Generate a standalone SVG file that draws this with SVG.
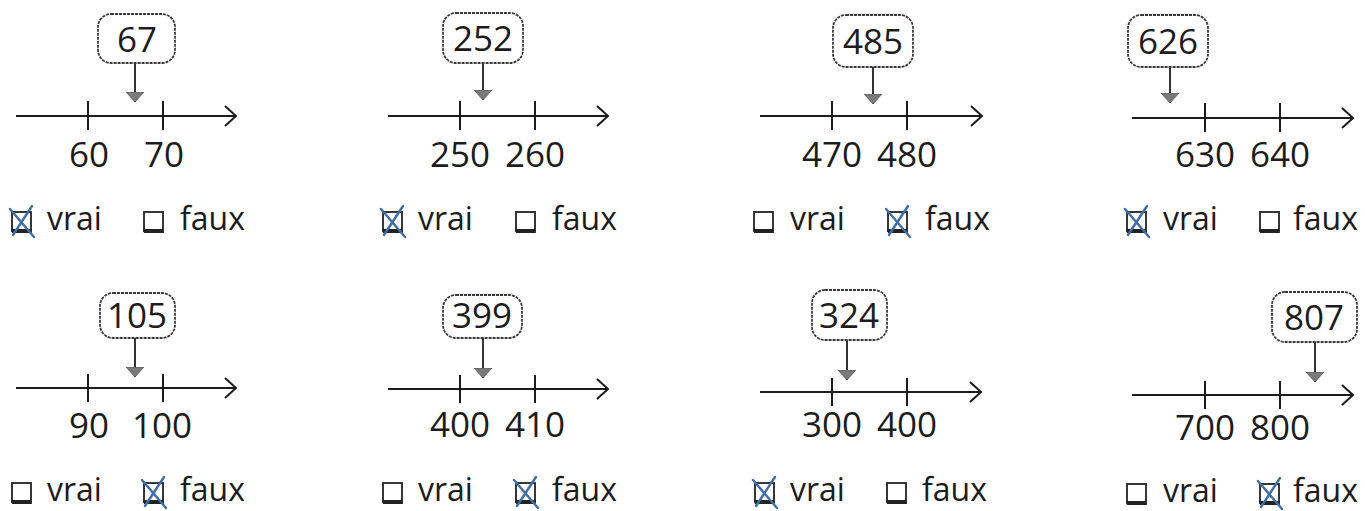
<svg xmlns="http://www.w3.org/2000/svg" width="1365" height="511" viewBox="0 0 1365 511">
<style>
text{font-family:"Open Sans","DejaVu Sans",sans-serif;fill:#1c1c1c}
.num{font-size:35px;text-anchor:middle}
.lbl{font-size:32px}
.box{fill:#fff;stroke:#3a3a3a;stroke-width:1.8;stroke-dasharray:3 1}
.axis{stroke:#1c1c1c;stroke-width:2.2;fill:none}
.tick{stroke:#1c1c1c;stroke-width:2}
.ptr{stroke:#333;stroke-width:2;fill:none}
.cb{fill:#fff;stroke:#222;stroke-width:1.8}
.cbs{fill:#222}
.x{stroke:#3f6ea6;stroke-width:2.4;fill:none;stroke-linecap:round}
</style>
<defs>
<marker id="tri" markerUnits="userSpaceOnUse" markerWidth="11" markerHeight="20" refX="10" refY="10" orient="auto" viewBox="0 0 11 20">
<path d="M0,1 L10,10 L0,19 Z" fill="#7a7a7a" stroke="#555" stroke-width="0.8"/>
</marker>
<marker id="open" markerUnits="userSpaceOnUse" markerWidth="14" markerHeight="22" refX="12" refY="11" orient="auto" viewBox="0 0 14 22">
<path d="M1,1 L12,11 L1,21" fill="none" stroke="#1c1c1c" stroke-width="2"/>
</marker>
<g id="cbEmpty"><rect class="cb" x="0" y="0" width="19" height="19"/><path class="cbs" d="M-1,17 L19,17 L20,21 L0,21 Z"/></g>
<g id="cbChecked"><use href="#cbEmpty"/><path class="x" d="M-2,-3 L22,25 M1,23 L20,-6"/></g>
</defs>

<g id="panel-67">
<rect class="box" x="98" y="14" width="77" height="49" rx="13"/>
<text class="num" x="137" y="52">67</text>
<line class="axis" x1="16" y1="116" x2="236" y2="116" marker-end="url(#open)"/>
<line class="tick" x1="88" y1="101" x2="88" y2="130"/>
<line class="tick" x1="163" y1="101" x2="163" y2="130"/>
<text class="num" x="89" y="167">60</text>
<text class="num" x="164" y="167">70</text>
<use href="#cbChecked" x="12" y="212"/><text class="lbl" x="47" y="230">vrai</text>
<use href="#cbEmpty" x="144" y="212"/><text class="lbl" x="180" y="230">faux</text>
</g>

<g id="panel-252">
<rect class="box" x="443" y="13" width="80" height="50" rx="13"/>
<text class="num" x="483" y="51">252</text>
<line class="axis" x1="388" y1="116" x2="608" y2="116" marker-end="url(#open)"/>
<line class="tick" x1="460" y1="101" x2="460" y2="130"/>
<line class="tick" x1="535" y1="101" x2="535" y2="130"/>
<text class="num" x="460" y="167">250</text>
<text class="num" x="535" y="167">260</text>
<use href="#cbChecked" x="383" y="212"/><text class="lbl" x="418" y="230">vrai</text>
<use href="#cbEmpty" x="516" y="212"/><text class="lbl" x="552" y="230">faux</text>
</g>

<g id="panel-485">
<rect class="box" x="833" y="15" width="80" height="52" rx="13"/>
<text class="num" x="873" y="54">485</text>
<line class="axis" x1="760" y1="116" x2="982" y2="116" marker-end="url(#open)"/>
<line class="tick" x1="832" y1="101" x2="832" y2="130"/>
<line class="tick" x1="907" y1="101" x2="907" y2="130"/>
<text class="num" x="832" y="167">470</text>
<text class="num" x="907" y="167">480</text>
<use href="#cbEmpty" x="754" y="212"/><text class="lbl" x="790" y="230">vrai</text>
<use href="#cbChecked" x="888" y="212"/><text class="lbl" x="925" y="230">faux</text>
</g>

<g id="panel-626">
<rect class="box" x="1128" y="15" width="80" height="52" rx="13"/>
<text class="num" x="1168" y="54">626</text>
<line class="axis" x1="1132" y1="118" x2="1353" y2="118" marker-end="url(#open)"/>
<line class="tick" x1="1205" y1="103" x2="1205" y2="132"/>
<line class="tick" x1="1280" y1="103" x2="1280" y2="132"/>
<text class="num" x="1205" y="167">630</text>
<text class="num" x="1280" y="167">640</text>
<use href="#cbChecked" x="1127" y="212"/><text class="lbl" x="1163" y="230">vrai</text>
<use href="#cbEmpty" x="1260" y="212"/><text class="lbl" x="1293" y="230">faux</text>
</g>

<g id="panel-105">
<rect class="box" x="100" y="293" width="75" height="45" rx="13"/>
<text class="num" x="137" y="328">105</text>
<line class="axis" x1="16" y1="388" x2="236" y2="388" marker-end="url(#open)"/>
<line class="tick" x1="88" y1="374" x2="88" y2="402"/>
<line class="tick" x1="163" y1="374" x2="163" y2="402"/>
<text class="num" x="89" y="438">90</text>
<text class="num" x="162" y="438">100</text>
<use href="#cbEmpty" x="12" y="483"/><text class="lbl" x="47" y="501">vrai</text>
<use href="#cbChecked" x="144" y="483"/><text class="lbl" x="180" y="501">faux</text>
</g>

<g id="panel-399">
<rect class="box" x="443" y="295" width="79" height="43" rx="13"/>
<text class="num" x="482" y="328">399</text>
<line class="axis" x1="388" y1="389" x2="608" y2="389" marker-end="url(#open)"/>
<line class="tick" x1="460" y1="375" x2="460" y2="403"/>
<line class="tick" x1="535" y1="375" x2="535" y2="403"/>
<text class="num" x="460" y="437">400</text>
<text class="num" x="535" y="437">410</text>
<use href="#cbEmpty" x="383" y="483"/><text class="lbl" x="418" y="501">vrai</text>
<use href="#cbChecked" x="516" y="483"/><text class="lbl" x="552" y="501">faux</text>
</g>

<g id="panel-324">
<rect class="box" x="812" y="290" width="75" height="50" rx="13"/>
<text class="num" x="849" y="328">324</text>
<line class="axis" x1="760" y1="392" x2="981" y2="392" marker-end="url(#open)"/>
<line class="tick" x1="832" y1="378" x2="832" y2="406"/>
<line class="tick" x1="907" y1="378" x2="907" y2="406"/>
<text class="num" x="832" y="437">300</text>
<text class="num" x="907" y="437">400</text>
<use href="#cbChecked" x="755" y="483"/><text class="lbl" x="790" y="501">vrai</text>
<use href="#cbEmpty" x="887" y="483"/><text class="lbl" x="922" y="501">faux</text>
</g>

<g id="panel-807">
<rect class="box" x="1272" y="292" width="85" height="50" rx="13"/>
<text class="num" x="1314" y="330">807</text>
<line class="axis" x1="1132" y1="395" x2="1353" y2="395" marker-end="url(#open)"/>
<line class="tick" x1="1205" y1="381" x2="1205" y2="409"/>
<line class="tick" x1="1280" y1="381" x2="1280" y2="409"/>
<text class="num" x="1205" y="440">700</text>
<text class="num" x="1280" y="440">800</text>
<use href="#cbEmpty" x="1127" y="484"/><text class="lbl" x="1163" y="502">vrai</text>
<use href="#cbChecked" x="1260" y="484"/><text class="lbl" x="1293" y="502">faux</text>
</g>

<g id="connectors">
<line class="ptr" x1="135" y1="63" x2="135" y2="102" marker-end="url(#tri)"/>
<line class="ptr" x1="483" y1="63" x2="483" y2="100" marker-end="url(#tri)"/>
<line class="ptr" x1="873" y1="67" x2="873" y2="104" marker-end="url(#tri)"/>
<line class="ptr" x1="1170" y1="67" x2="1170" y2="103" marker-end="url(#tri)"/>
<line class="ptr" x1="135" y1="338" x2="135" y2="377" marker-end="url(#tri)"/>
<line class="ptr" x1="483" y1="338" x2="483" y2="378" marker-end="url(#tri)"/>
<line class="ptr" x1="847" y1="340" x2="847" y2="380" marker-end="url(#tri)"/>
<line class="ptr" x1="1315" y1="342" x2="1315" y2="382" marker-end="url(#tri)"/>
</g>
</svg>
